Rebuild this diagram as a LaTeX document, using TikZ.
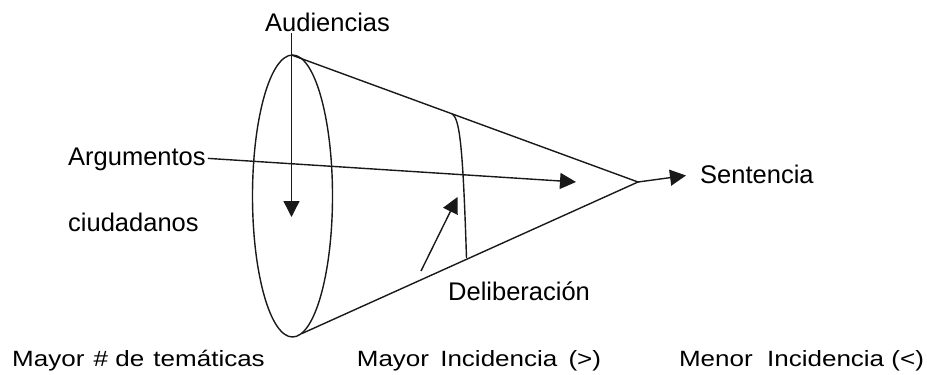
\documentclass[tikz,border=0pt]{standalone}
\usepackage{fontspec}
\setmainfont{Liberation Sans}
\usetikzlibrary{arrows.meta}
\begin{document}
\begin{tikzpicture}[x=1pt,y=-1pt,
  line/.style={line width=1.4pt, black!90},
  arr/.style={line, -{Triangle[length=16pt,width=16pt]}},
  lbl/.style={inner sep=0pt, font=\fontsize{25.5}{30}\selectfont},
  btm/.style={inner sep=0pt, anchor=base}]
\useasboundingbox (0,0) rectangle (927,375);
% key points
\coordinate (top) at (291.5,55);
\coordinate (bot) at (302,333.5);
\coordinate (apex) at (638,182);
\coordinate (curvetop) at (452,114);
\coordinate (curvebot) at (466.5,258);
\coordinate (audstart) at (291.5,33);
\coordinate (audtip) at (291.5,217);
\coordinate (argtip) at (576,182);
\coordinate (deltail) at (421,271);
\coordinate (deltip) at (457.5,197);
\coordinate (sentip) at (686,175.5);
% cone
\draw[line] (292.5,196) ellipse [x radius=40, y radius=141];
\draw[line] (top) -- (apex) -- (bot);
\draw[line] (curvetop) .. controls (460,118) and (463,150) .. (curvebot);
% labels
\node[lbl, anchor=base west] (aud) at (265,31.7) {Audiencias};
\node[lbl, anchor=base west] (arg) at (68,165) {Argumentos};
\node[lbl, anchor=base west] (ciu) at (68,231.7) {ciudadanos};
\node[lbl, anchor=base west] (sen) at (700,183.3) {Sentencia};
\node[lbl, anchor=base west] (del) at (448,300.5) {Deliberación};
% arrows
\draw[arr] (audstart) -- (audtip);
\draw[arr] (arg.east) ++(2,-0.5) coordinate (argstart) -- (argtip);
\draw[arr] (deltail) -- (deltip);
\draw[arr] (apex) -- (sentip);
% bottom labels
\node[btm] (b1) at (138.5,366.7) {\scalebox{1}[0.85]{\fontsize{26}{30}\selectfont Mayor\hspace{2pt} \# de\hspace{2pt} temáticas}};
\node[btm] (b2) at (479,366.7) {\scalebox{1}[0.85]{\fontsize{26}{30}\selectfont Mayor\hspace{4pt} Incidencia\hspace{4pt} (>)}};
\node[btm] (b3) at (801.5,366.7) {\scalebox{1}[0.85]{\fontsize{26}{30}\selectfont Menor\ \ Incidencia (<)}};
\end{tikzpicture}
\end{document}
